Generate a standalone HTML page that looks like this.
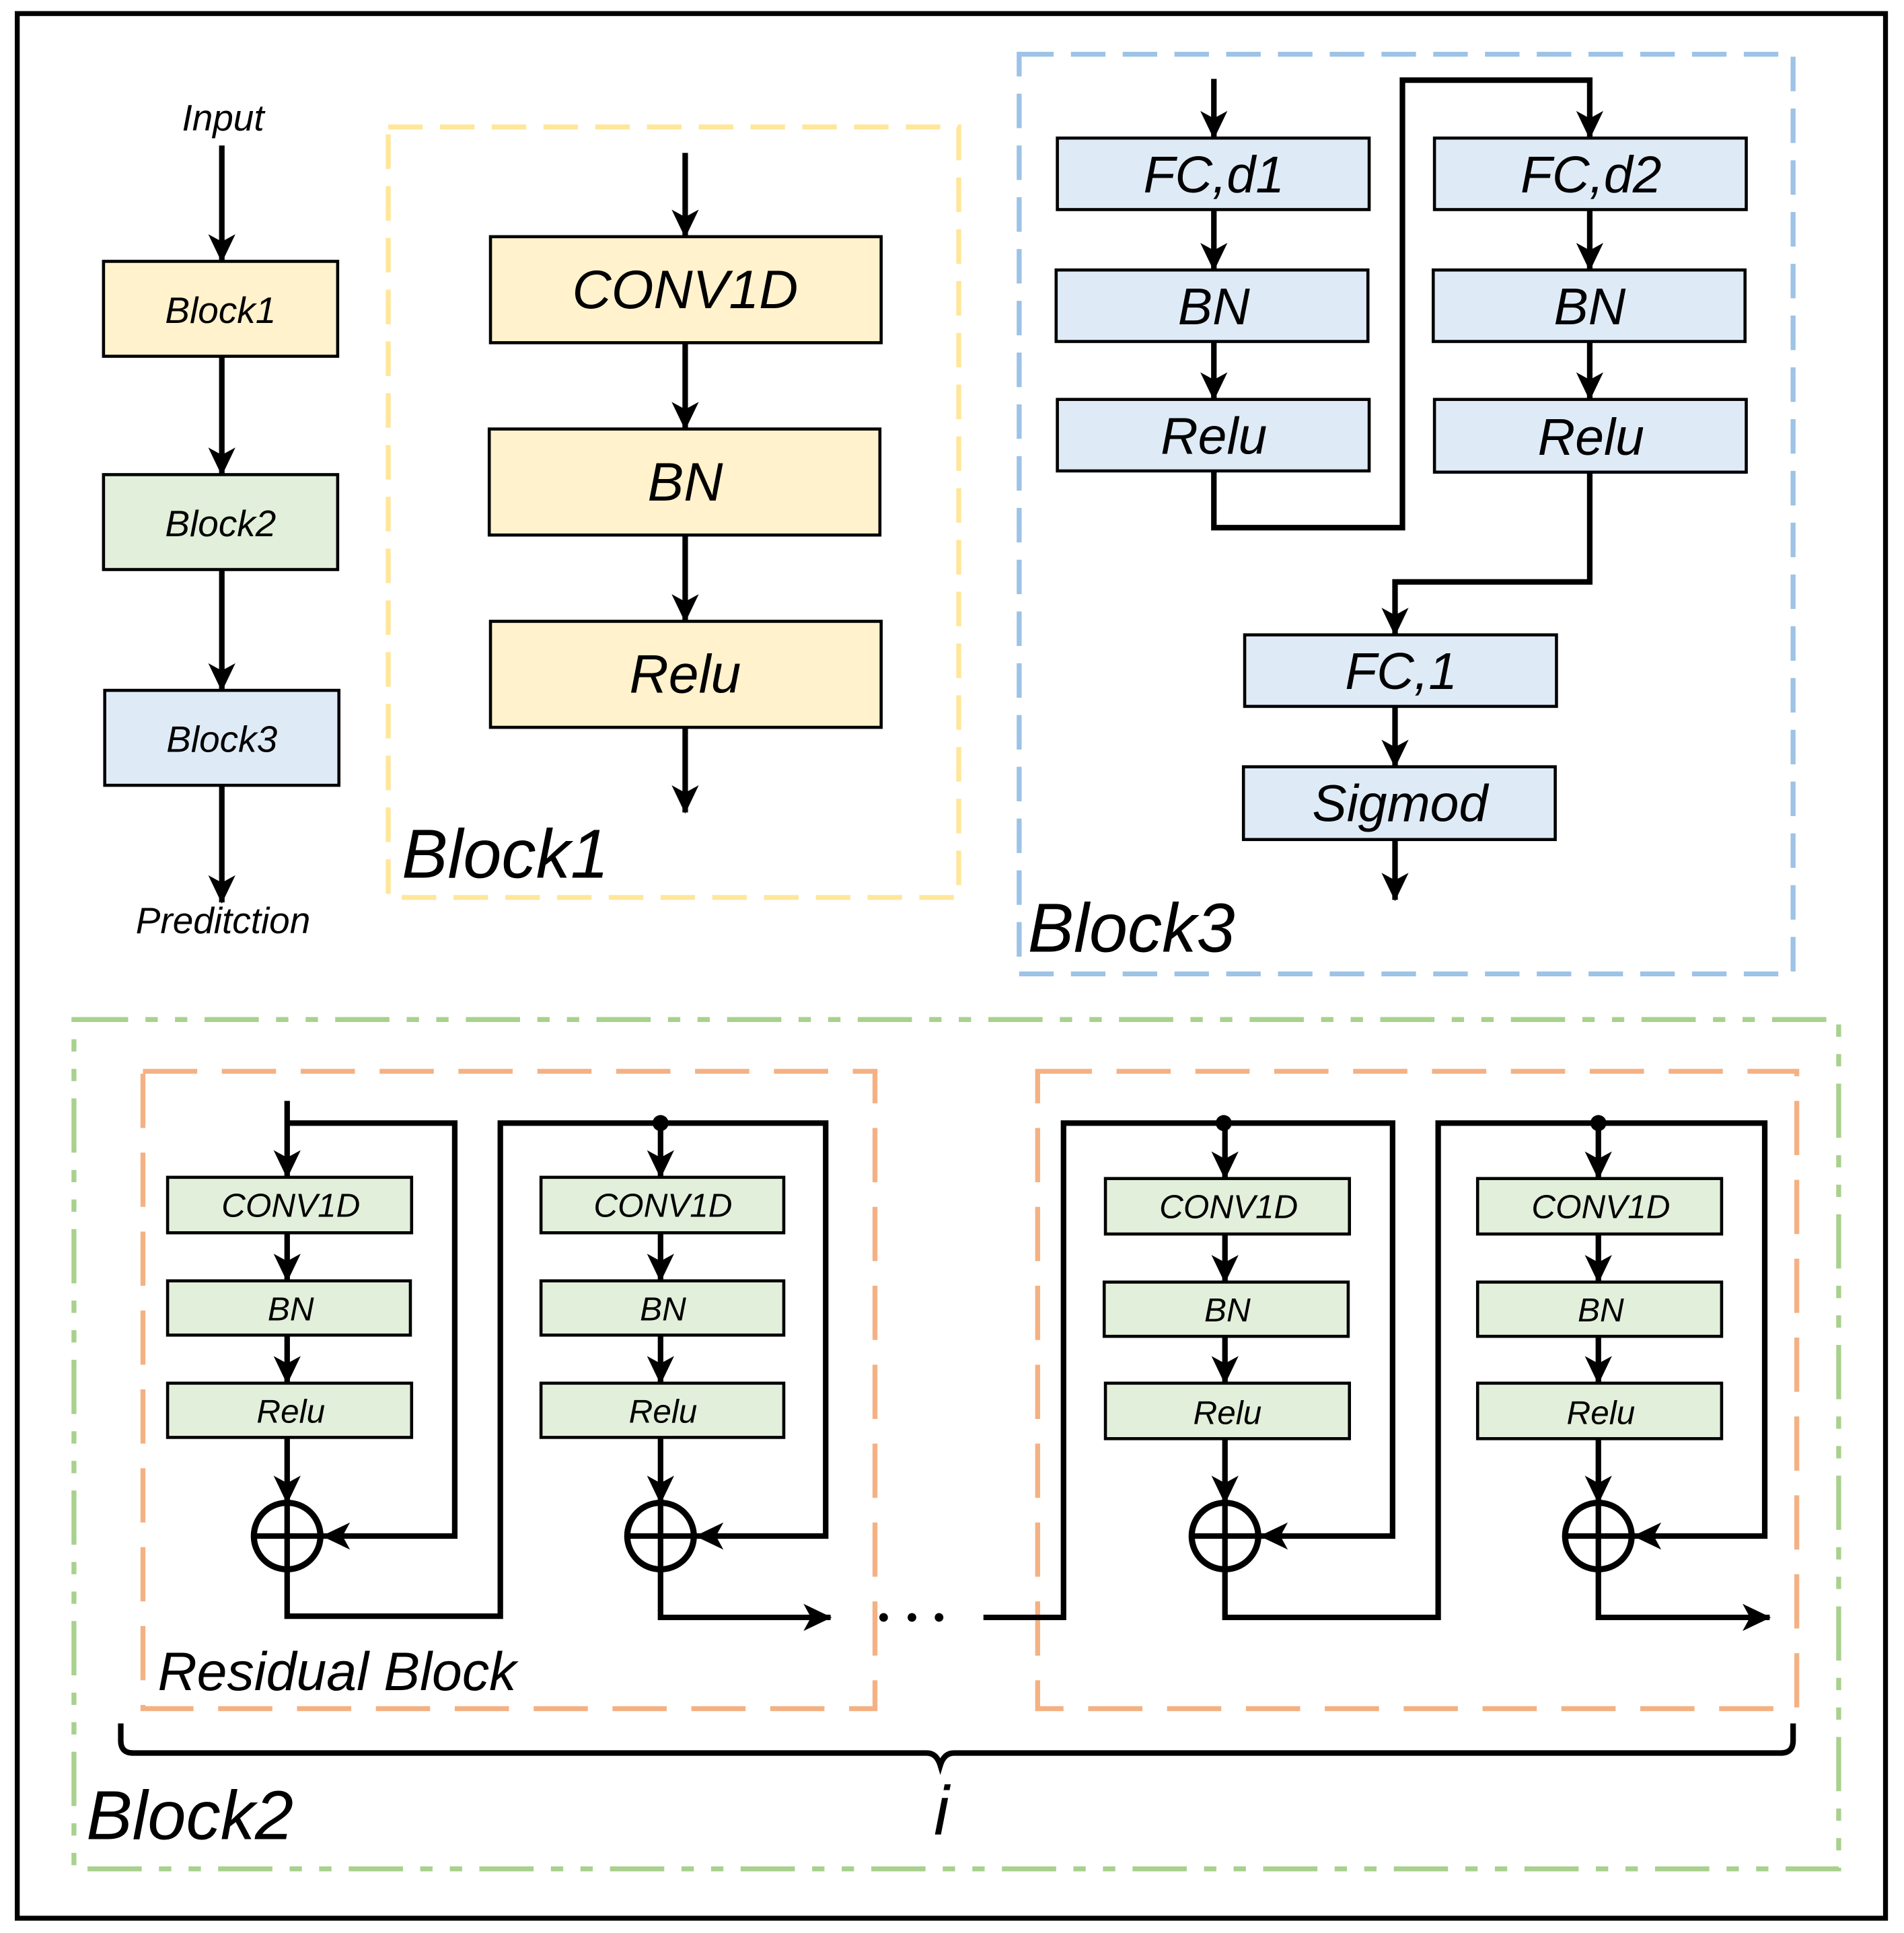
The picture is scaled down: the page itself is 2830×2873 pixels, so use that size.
<!DOCTYPE html>
<html><head><meta charset="utf-8"><style>
html,body{margin:0;padding:0;background:#fff}
svg{display:block}
text{font-family:"Liberation Sans",sans-serif;font-style:italic;fill:#000}
</style></head><body>
<svg width="2830" height="2873" viewBox="0 0 1545 1568" preserveAspectRatio="none" xmlns="http://www.w3.org/2000/svg">
<defs>
<marker id="a" viewBox="-24 -12 26 24" refX="0" refY="0" markerWidth="26" markerHeight="24" markerUnits="userSpaceOnUse" orient="auto">
<path d="M1,0 L-22,-11 L-16,0 L-22,11 Z" fill="#000"/>
</marker>
</defs>
<rect x="14" y="11" width="1516" height="1545" fill="none" stroke="#000" stroke-width="4"/>

<!-- left column -->
<text x="181" y="106" font-size="30" text-anchor="middle">Input</text>
<line x1="180" y1="118" x2="180" y2="212" stroke="#000" stroke-width="4.5" marker-end="url(#a)"/>
<rect x="84" y="212" width="190" height="77" fill="#fff2cc" stroke="#000" stroke-width="2.5"/>
<text x="179" y="262" font-size="30" text-anchor="middle">Block1</text>
<line x1="180" y1="289" x2="180" y2="385" stroke="#000" stroke-width="4.5" marker-end="url(#a)"/>
<rect x="84" y="385" width="190" height="77" fill="#e2efda" stroke="#000" stroke-width="2.5"/>
<text x="179" y="435" font-size="30" text-anchor="middle">Block2</text>
<line x1="180" y1="462" x2="180" y2="560" stroke="#000" stroke-width="4.5" marker-end="url(#a)"/>
<rect x="85" y="560" width="190" height="77" fill="#deebf7" stroke="#000" stroke-width="2.5"/>
<text x="180" y="610" font-size="30" text-anchor="middle">Block3</text>
<line x1="180" y1="637" x2="180" y2="732" stroke="#000" stroke-width="4.5" marker-end="url(#a)"/>
<text x="181" y="757" font-size="30" text-anchor="middle">Preditction</text>

<!-- Block1 detail -->
<rect x="315" y="103" width="463" height="625" fill="none" stroke="#ffe699" stroke-width="4" stroke-dasharray="28,14"/>
<line x1="556" y1="124" x2="556" y2="192" stroke="#000" stroke-width="4.5" marker-end="url(#a)"/>
<rect x="398" y="192" width="317" height="86" fill="#fff2cc" stroke="#000" stroke-width="2.5"/>
<text x="556" y="250" font-size="44" text-anchor="middle">CONV1D</text>
<line x1="556" y1="278" x2="556" y2="348" stroke="#000" stroke-width="4.5" marker-end="url(#a)"/>
<rect x="397" y="348" width="317" height="86" fill="#fff2cc" stroke="#000" stroke-width="2.5"/>
<text x="556" y="406" font-size="44" text-anchor="middle">BN</text>
<line x1="556" y1="434" x2="556" y2="504" stroke="#000" stroke-width="4.5" marker-end="url(#a)"/>
<rect x="398" y="504" width="317" height="86" fill="#fff2cc" stroke="#000" stroke-width="2.5"/>
<text x="556" y="562" font-size="44" text-anchor="middle">Relu</text>
<line x1="556" y1="590" x2="556" y2="659" stroke="#000" stroke-width="4.5" marker-end="url(#a)"/>
<text x="326" y="712" font-size="56">Block1</text>

<!-- Block3 detail -->
<rect x="827" y="44" width="628" height="746" fill="none" stroke="#9dc3e6" stroke-width="4" stroke-dasharray="28,14"/>
<g stroke="#000" stroke-width="2.5">
<rect x="858" y="112" width="253" height="58" fill="#deebf7"/>
<rect x="857" y="219" width="253" height="58" fill="#deebf7"/>
<rect x="858" y="324" width="253" height="58" fill="#deebf7"/>
<rect x="1164" y="112" width="253" height="58" fill="#deebf7"/>
<rect x="1163" y="219" width="253" height="58" fill="#deebf7"/>
<rect x="1164" y="324" width="253" height="59" fill="#deebf7"/>
<rect x="1010" y="515" width="253" height="58" fill="#deebf7"/>
<rect x="1009" y="622" width="253" height="59" fill="#deebf7"/>
</g>
<g font-size="42" text-anchor="middle">
<text x="985" y="156">FC,d1</text>
<text x="985" y="263">BN</text>
<text x="985" y="368">Relu</text>
<text x="1291" y="156">FC,d2</text>
<text x="1290" y="263">BN</text>
<text x="1291" y="369">Relu</text>
<text x="1137" y="559">FC,1</text>
<text x="1136" y="666">Sigmod</text>
</g>
<g stroke="#000" stroke-width="4.5" fill="none">
<line x1="985" y1="64" x2="985" y2="112" marker-end="url(#a)"/>
<line x1="985" y1="170" x2="985" y2="219" marker-end="url(#a)"/>
<line x1="985" y1="277" x2="985" y2="324" marker-end="url(#a)"/>
<line x1="1290" y1="170" x2="1290" y2="219" marker-end="url(#a)"/>
<line x1="1290" y1="277" x2="1290" y2="324" marker-end="url(#a)"/>
<polyline points="985,382 985,428 1138,428 1138,65 1290,65 1290,112" marker-end="url(#a)"/>
<polyline points="1290,383 1290,472 1132,472 1132,515" marker-end="url(#a)"/>
<line x1="1132" y1="573" x2="1132" y2="622" marker-end="url(#a)"/>
<line x1="1132" y1="681" x2="1132" y2="730" marker-end="url(#a)"/>
</g>
<text x="834" y="772" font-size="56">Block3</text>

<!-- Block2 -->
<rect x="60" y="827" width="1432" height="689" fill="none" stroke="#a9d18e" stroke-width="4" stroke-dasharray="44,14,10,14,10,14"/>
<rect x="116" y="869" width="594" height="517" fill="none" stroke="#f4b183" stroke-width="4" stroke-dasharray="44,20"/>
<rect x="842" y="869" width="616" height="517" fill="none" stroke="#f4b183" stroke-width="4" stroke-dasharray="44,20"/>

<g stroke="#000" stroke-width="2.5" fill="#e2efda">
<rect x="136" y="955" width="198" height="45"/><rect x="136" y="1039" width="197" height="44"/><rect x="136" y="1122" width="198" height="44"/>
<rect x="439" y="955" width="197" height="45"/><rect x="439" y="1039" width="197" height="44"/><rect x="439" y="1122" width="197" height="44"/>
<rect x="897" y="956" width="198" height="45"/><rect x="896" y="1040" width="198" height="44"/><rect x="897" y="1122" width="198" height="45"/>
<rect x="1199" y="956" width="198" height="45"/><rect x="1199" y="1040" width="198" height="44"/><rect x="1199" y="1122" width="198" height="45"/>
</g>
<g font-size="27" text-anchor="middle">
<text x="236" y="987">CONV1D</text><text x="236" y="1071">BN</text><text x="236" y="1154">Relu</text>
<text x="538" y="987">CONV1D</text><text x="538" y="1071">BN</text><text x="538" y="1154">Relu</text>
<text x="997" y="988">CONV1D</text><text x="996" y="1072">BN</text><text x="996" y="1155">Relu</text>
<text x="1299" y="988">CONV1D</text><text x="1299" y="1072">BN</text><text x="1299" y="1155">Relu</text>
</g>
<g stroke="#000" stroke-width="4.5" fill="none">
<line x1="233" y1="893" x2="233" y2="955" marker-end="url(#a)"/>
<line x1="233" y1="1000" x2="233" y2="1039" marker-end="url(#a)"/>
<line x1="233" y1="1083" x2="233" y2="1122" marker-end="url(#a)"/>
<line x1="233" y1="1166" x2="233" y2="1219" marker-end="url(#a)"/>
<polyline points="233,911 369,911 369,1246 262,1246" marker-end="url(#a)"/>
<circle cx="233" cy="1246" r="27" stroke-width="5"/>
<line x1="206" y1="1246" x2="260" y2="1246"/><line x1="233" y1="1219" x2="233" y2="1273"/>
<polyline points="233,1273 233,1311 406,1311 406,911 670,911 670,1246 565,1246" marker-end="url(#a)"/>
<line x1="536" y1="911" x2="536" y2="955" marker-end="url(#a)"/>
<line x1="536" y1="1000" x2="536" y2="1039" marker-end="url(#a)"/>
<line x1="536" y1="1083" x2="536" y2="1122" marker-end="url(#a)"/>
<line x1="536" y1="1166" x2="536" y2="1219" marker-end="url(#a)"/>
<circle cx="536" cy="1246" r="27" stroke-width="5"/>
<line x1="509" y1="1246" x2="563" y2="1246"/><line x1="536" y1="1219" x2="536" y2="1273"/>
<polyline points="536,1273 536,1312 674,1312" marker-end="url(#a)"/>
<polyline points="798,1312 863,1312 863,911 1130,911 1130,1246 1023,1246" marker-end="url(#a)"/>
<line x1="994" y1="911" x2="994" y2="956" marker-end="url(#a)"/>
<line x1="994" y1="1001" x2="994" y2="1040" marker-end="url(#a)"/>
<line x1="994" y1="1084" x2="994" y2="1122" marker-end="url(#a)"/>
<line x1="994" y1="1167" x2="994" y2="1219" marker-end="url(#a)"/>
<circle cx="994" cy="1246" r="27" stroke-width="5"/>
<line x1="967" y1="1246" x2="1021" y2="1246"/><line x1="994" y1="1219" x2="994" y2="1273"/>
<polyline points="994,1273 994,1312 1167,1312 1167,911 1432,911 1432,1246 1326,1246" marker-end="url(#a)"/>
<line x1="1297" y1="911" x2="1297" y2="956" marker-end="url(#a)"/>
<line x1="1297" y1="1001" x2="1297" y2="1040" marker-end="url(#a)"/>
<line x1="1297" y1="1084" x2="1297" y2="1122" marker-end="url(#a)"/>
<line x1="1297" y1="1167" x2="1297" y2="1219" marker-end="url(#a)"/>
<circle cx="1297" cy="1246" r="27" stroke-width="5"/>
<line x1="1270" y1="1246" x2="1324" y2="1246"/><line x1="1297" y1="1219" x2="1297" y2="1273"/>
<polyline points="1297,1273 1297,1312 1436,1312" marker-end="url(#a)"/>
<path d="M98,1398 L98,1412 Q98,1422 108,1422 L752,1422 Q760,1422 763,1432 Q766,1422 774,1422 L1445,1422 Q1455,1422 1455,1412 L1455,1398"/>
</g>
<g fill="#000">
<circle cx="536" cy="911" r="6.5"/><circle cx="993" cy="911" r="6.5"/><circle cx="1297" cy="911" r="6.5"/>
<circle cx="717" cy="1312" r="3.5"/><circle cx="740" cy="1312" r="3.5"/><circle cx="762" cy="1312" r="3.5"/>
</g>
<text x="128" y="1371" font-size="44">Residual Block</text>
<text x="764" y="1488" font-size="56" text-anchor="middle">i</text>
<text x="70" y="1492" font-size="56">Block2</text>
</svg>
</body></html>
